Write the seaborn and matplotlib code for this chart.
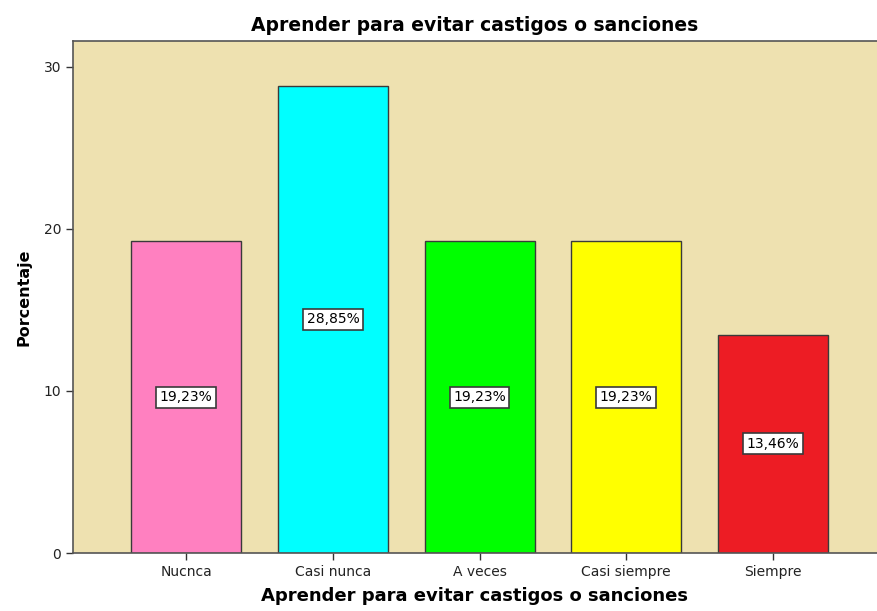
import matplotlib
matplotlib.use("Agg")
import matplotlib.pyplot as plt
import seaborn as sns
import pandas as pd

# data
categories = ["Nucnca", "Casi nunca", "A veces", "Casi siempre", "Siempre"]
percentages = [19.23, 28.85, 19.23, 19.23, 13.46]
bar_colors = ["#FF80C0", "#00FFFF", "#00FF00", "#FFFF00", "#ED1C24"]
y_ticks = [0, 10, 20, 30]

title = "Aprender para evitar castigos o sanciones"

df = pd.DataFrame({"categoria": categories, "porcentaje": percentages})

sns.set_style("white")
plt.rcParams["font.family"] = ["DejaVu Sans"]
plt.rcParams["text.color"] = "black"

fig = plt.figure(figsize=(8.77, 6.11), dpi=100)
ax = fig.add_axes([0.0832, 0.0949, 0.9168, 0.838])
ax.set_facecolor("#EEE1B0")

sns.barplot(data=df, x="categoria", y="porcentaje", hue="categoria",
            palette=bar_colors, order=categories, hue_order=categories,
            width=0.75, saturation=1, edgecolor="#3a3a3a", linewidth=1.0,
            legend=False, ax=ax)

# value boxes in the middle of each bar
for cont in ax.containers:
    lbls = ax.bar_label(cont, labels=[f"{v:.2f}%".replace(".", ",") for v in cont.datavalues],
                        label_type="center", fontsize=10, color="black")
    for t in lbls:
        t.set_bbox(dict(facecolor="white", edgecolor="#3a3a3a", linewidth=1.2, pad=2.5))

ax.set_xlim(-0.772, 4.709)
ax.set_ylim(0, 31.6)
ax.set_yticks(y_ticks)

for side in ["left", "top", "bottom"]:
    ax.spines[side].set_visible(True)
    ax.spines[side].set_color("#555555")
    ax.spines[side].set_linewidth(1.2)
ax.spines["right"].set_visible(False)

ax.tick_params(axis="both", which="major", direction="out", length=5, width=1,
               color="#333333", labelsize=10, labelcolor="#222222",
               left=True, bottom=True)

ax.set_xlabel(title, fontsize=13, fontweight="bold", labelpad=6, color="black")
ax.set_ylabel("Porcentaje", fontsize=11.5, fontweight="bold", labelpad=9, color="black")
ax.set_title(title, fontsize=13.5, fontweight="bold", pad=7, color="black")

fig.savefig("out.png", dpi=100)
